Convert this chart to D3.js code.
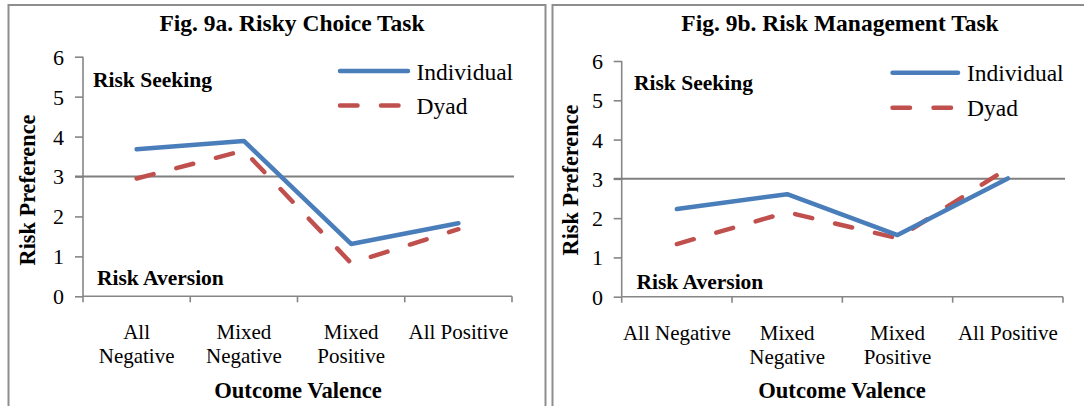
<!DOCTYPE html>
<html>
<head>
<meta charset="utf-8">
<script src="https://cdn.jsdelivr.net/npm/d3@7/dist/d3.min.js"></script>
<style>
  html, body { margin: 0; padding: 0; background: #fff; }
  svg { display: block; font-family: "Liberation Serif", "Times New Roman", serif; }
  svg text { font-family: "Liberation Serif", "Times New Roman", serif; }
</style>
</head>
<body>
<svg id="chart" width="1084" height="406"></svg>
<script>
// ---- Data ----
const categories = ["All Negative", "Mixed Negative", "Mixed Positive", "All Positive"];
const labelLinesA = [["All", "Negative"], ["Mixed", "Negative"], ["Mixed", "Positive"], ["All Positive"]];
const labelLinesB = [["All Negative"], ["Mixed", "Negative"], ["Mixed", "Positive"], ["All Positive"]];
const seriesNames = ["Individual", "Dyad"];
const individualA = [3.68, 3.89, 1.31, 1.83];
const dyadA = [2.95, 3.65, 0.83, 1.68];
const individualB = [2.23, 2.61, 1.57, 3.01];
const dyadB = [1.34, 2.15, 1.49, 3.27];
const yTicks = [0, 1, 2, 3, 4, 5, 6];
const neutralValue = 3;
const titles = ["Fig. 9a. Risky Choice Task", "Fig. 9b. Risk Management Task"];
const yTitle = "Risk Preference";
const xTitle = "Outcome Valence";
const zoneLabels = ["Risk Seeking", "Risk Aversion"];

// ---- Styling ----
const BLUE = "#4a7ebb";
const RED = "#c0504d";
const AXIS = "#868686";
const BORDER = "#8e8e8e";
const FONT = "Liberation Serif, Times New Roman, serif";

const svg = d3.select("#chart");

const panels = [
  {
    border: [8.5, 5, 545.5],
    plot: { x0: 83, x1: 512, y0: 296.3, y1: 56.7 },
    labels: labelLinesA, ind: individualA, dyad: dyadA, title: titles[0],
    titleX: 292, tickLabelX: 64,
    yTitleX: 35, yTitleY: 190,
    xTitleX: 298,
    seek: [93, 86.5], aver: [97, 285],
    legend: { x: 340, x2: 408, y1: 71, y2: 105.5, tx: 416.5 }
  },
  {
    border: [552.5, 5, 1090],
    plot: { x0: 621.7, x1: 1063, y0: 296.7, y1: 61 },
    labels: labelLinesB, ind: individualB, dyad: dyadB, title: titles[1],
    titleX: 840, tickLabelX: 603,
    yTitleX: 578, yTitleY: 180,
    xTitleX: 842,
    seek: [634, 90], aver: [636.5, 288.5],
    legend: { x: 892.5, x2: 958, y1: 72.7, y2: 107.7, tx: 967 }
  }
];

panels.forEach(p => {
  const g = svg.append("g");
  // panel border (top, left, right)
  const [bx0, by0, bx1] = p.border;
  g.append("path")
    .attr("d", `M${bx0},410 L${bx0},${by0} L${bx1},${by0} L${bx1},410`)
    .attr("fill", "none").attr("stroke", BORDER).attr("stroke-width", 2);

  const x = d3.scaleBand().domain(categories).range([p.plot.x0, p.plot.x1]).padding(0);
  const y = d3.scaleLinear().domain([0, 6]).range([p.plot.y0, p.plot.y1]);
  const cx = c => x(c) + x.bandwidth() / 2;

  // y axis
  const yAxis = d3.axisLeft(y).tickValues(yTicks).tickSize(8).tickPadding(8).tickFormat(d3.format("d"));
  const ya = g.append("g").attr("transform", `translate(${p.plot.x0},0)`).call(yAxis)
    .attr("font-family", FONT).attr("font-size", 22);
  ya.select(".domain").attr("stroke", AXIS).attr("stroke-width", 1.6).attr("d", `M0,${p.plot.y0}V${p.plot.y1}`);
  ya.selectAll(".tick line").attr("stroke", AXIS).attr("stroke-width", 1.6);
  ya.selectAll(".tick text")
    .attr("x", p.tickLabelX - p.plot.x0).attr("dx", null)
    .attr("fill", "#000")
    .attr("text-anchor", "end")
    .attr("dy", "0.34em");

  // x axis: line + ticks at category boundaries
  const bounds = categories.map(c => x(c)).concat([p.plot.x1]);
  g.append("line").attr("x1", p.plot.x0).attr("x2", p.plot.x1)
    .attr("y1", p.plot.y0).attr("y2", p.plot.y0)
    .attr("stroke", AXIS).attr("stroke-width", 1.6);
  g.selectAll(".xtick").data(bounds).enter().append("line")
    .attr("x1", d => d).attr("x2", d => d)
    .attr("y1", p.plot.y0).attr("y2", p.plot.y0 + 6)
    .attr("stroke", AXIS).attr("stroke-width", 1.6);

  // category labels
  categories.forEach((c, i) => {
    const t = g.append("text").attr("text-anchor", "middle")
      .attr("x", cx(c)).attr("y", p.plot.y0 + 43)
      .style("font-size", "21px").attr("fill", "#000");
    p.labels[i].forEach((line, j) => {
      t.append("tspan").attr("x", cx(c)).attr("dy", j === 0 ? 0 : 24).text(line);
    });
  });

  // neutral reference line at 3
  g.append("line")
    .attr("x1", p.plot.x0 - 8).attr("x2", p.plot.x1 + 2)
    .attr("y1", y(neutralValue)).attr("y2", y(neutralValue))
    .attr("stroke", "#7f7f7f").attr("stroke-width", 2);

  // series lines
  const line = d3.line().x((d, i) => cx(categories[i])).y(d => y(d));
  g.append("path").datum(p.dyad).attr("d", line)
    .attr("fill", "none").attr("stroke", RED).attr("stroke-width", 4.5)
    .attr("stroke-linecap", "round").attr("stroke-linejoin", "round")
    .attr("stroke-dasharray", "17.5 23.5");
  g.append("path").datum(p.ind).attr("d", line)
    .attr("fill", "none").attr("stroke", BLUE).attr("stroke-width", 4.5)
    .attr("stroke-linecap", "round").attr("stroke-linejoin", "round");

  // title
  g.append("text").attr("x", p.titleX).attr("y", 31).attr("text-anchor", "middle")
    .style("font-size", "23.5px").style("font-weight", "bold").text(p.title);

  // y title
  g.append("text")
    .attr("transform", `translate(${p.yTitleX},${p.yTitleY}) rotate(-90)`)
    .attr("text-anchor", "middle")
    .style("font-size", "22.3px").style("font-weight", "bold").text(yTitle);

  // x title
  g.append("text").attr("x", p.xTitleX).attr("y", 398).attr("text-anchor", "middle")
    .style("font-size", "22.6px").style("font-weight", "bold").text(xTitle);

  // zone labels
  g.append("text").attr("x", p.seek[0]).attr("y", p.seek[1])
    .style("font-size", "21.5px").style("font-weight", "bold").text(zoneLabels[0]);
  g.append("text").attr("x", p.aver[0]).attr("y", p.aver[1])
    .style("font-size", "21.5px").style("font-weight", "bold").text(zoneLabels[1]);

  // legend
  const L = p.legend;
  g.append("line").attr("x1", L.x).attr("x2", L.x2).attr("y1", L.y1).attr("y2", L.y1)
    .attr("stroke", BLUE).attr("stroke-width", 4.5).attr("stroke-linecap", "round");
  g.append("line").attr("x1", L.x).attr("x2", L.x2).attr("y1", L.y2).attr("y2", L.y2)
    .attr("stroke", RED).attr("stroke-width", 4.5).attr("stroke-linecap", "round")
    .attr("stroke-dasharray", "17.5 23.5");
  g.append("text").attr("x", L.tx).attr("y", L.y1 + 8.5)
    .style("font-size", "23.5px").text(seriesNames[0]);
  g.append("text").attr("x", L.tx).attr("y", L.y2 + 8)
    .style("font-size", "23.5px").text(seriesNames[1]);
});
</script>
</body>
</html>
